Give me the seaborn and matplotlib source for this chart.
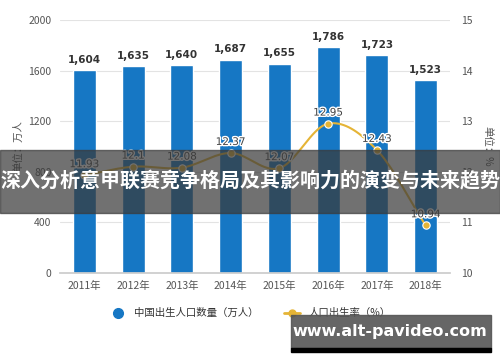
import numpy as np
import pandas as pd
import matplotlib
matplotlib.use("Agg")
import matplotlib.pyplot as plt
import matplotlib.patheffects as pe
import seaborn as sns
from matplotlib.patches import Rectangle
from matplotlib.lines import Line2D

years = ["2011年", "2012年", "2013年", "2014年", "2015年", "2016年", "2017年", "2018年"]
births = [1604, 1635, 1640, 1687, 1655, 1786, 1723, 1523]
birth_rate = [11.93, 12.1, 12.08, 12.37, 12.07, 12.95, 12.43, 10.94]
rate_labels = ["11.93", "12.1", "12.08", "12.37", "12.07", "12.95", "12.43", "10.94"]

sns.set_theme(style="white")
plt.rcParams['font.family'] = ['Noto Sans CJK SC', 'DejaVu Sans']

BLUE = "#1677C4"
GOLD = "#E5B436"
GRAY = "#555555"

df = pd.DataFrame({"year": years, "births": births, "rate": birth_rate})

fig = plt.figure(figsize=(5, 3.62), dpi=100)
ax = fig.add_axes([0.12, 0.246, 0.78, 0.699])

sns.barplot(data=df, x="year", y="births", color=BLUE, width=0.47,
            saturation=1, ax=ax, zorder=2)
ax.set_ylim(0, 2000)
ax.set_yticks([0, 400, 800, 1200, 1600, 2000])
ax.set_xlim(-0.5, 7.5)
ax.grid(axis="y", color="#E3E3E3", lw=0.8, zorder=0)
ax.set_axisbelow(True)
for s in ["top", "right", "left"]:
    ax.spines[s].set_visible(False)
ax.spines["bottom"].set_color("#CCCCCC")
ax.tick_params(axis="both", labelsize=7.5, colors=GRAY, length=0, pad=6)
ax.tick_params(axis="x", length=3, color="#CCCCCC", pad=3)
ax.set_xlabel("")
ax.set_ylabel("单位：万人", fontsize=7.5, color=GRAY, labelpad=4)
for i, v in enumerate(births):
    ax.text(i, v + 40, f"{v:,}", ha="center", va="bottom", fontsize=7.5,
            fontweight="bold", color="#333333", family="DejaVu Sans")

ax2 = ax.twinx()
ax2.set_ylim(10, 15)
ax2.set_yticks([10, 11, 12, 13, 14, 15])
for s in ["top", "right", "left", "bottom"]:
    ax2.spines[s].set_visible(False)
ax2.tick_params(axis="y", labelsize=7.5, colors=GRAY, length=0, pad=8)
ax2.set_ylabel("单位：%", fontsize=7.5, color=GRAY, rotation=-90, labelpad=14)

# smooth curve through the data points (Catmull-Rom)
xs = np.arange(len(birth_rate), dtype=float)
ys = np.array(birth_rate)
px = np.concatenate([[2 * xs[0] - xs[1]], xs, [2 * xs[-1] - xs[-2]]])
py = np.concatenate([[2 * ys[0] - ys[1]], ys, [2 * ys[-1] - ys[-2]]])
cx, cy = [], []
t = np.linspace(0, 1, 20)
for k in range(1, len(px) - 2):
    p0, p1, p2, p3 = py[k - 1], py[k], py[k + 1], py[k + 2]
    q0, q1, q2, q3 = px[k - 1], px[k], px[k + 1], px[k + 2]
    cy.extend(0.5 * (2 * p1 + (-p0 + p2) * t + (2 * p0 - 5 * p1 + 4 * p2 - p3) * t**2
                     + (-p0 + 3 * p1 - 3 * p2 + p3) * t**3))
    cx.extend(0.5 * (2 * q1 + (-q0 + q2) * t + (2 * q0 - 5 * q1 + 4 * q2 - q3) * t**2
                     + (-q0 + 3 * q1 - 3 * q2 + q3) * t**3))
ax2.plot(cx, cy, color=GOLD, lw=1.5, zorder=3)
sns.scatterplot(x=xs, y=ys, color=GOLD, s=28, edgecolor="white", linewidth=0.8,
                ax=ax2, zorder=4, legend=False)
for i, v in enumerate(birth_rate):
    ax2.text(i, v + 0.12, rate_labels[i], ha="center", va="bottom", fontsize=7.5,
             color="#444444", family="DejaVu Sans",
             path_effects=[pe.withStroke(linewidth=2, foreground="white")])

handles = [
    Line2D([], [], marker="o", color=BLUE, lw=0, markersize=7),
    Line2D([], [], marker="o", color=GOLD, lw=2, markersize=5),
]
fig.legend(handles, ["中国出生人口数量（万人）", "人口出生率（%）"], loc="center",
           bbox_to_anchor=(0.5, 0.135), ncol=2, frameon=False, fontsize=7.5,
           handlelength=1.5, columnspacing=2.5, labelcolor="#333333")

# overlay banner
fig.patches.append(Rectangle((0, 0.412), 1, 0.174, transform=fig.transFigure,
                             color="#3A3A3A", alpha=0.72, zorder=10))
fig.text(0.5, 0.5, "深入分析意甲联赛竞争格局及其影响力的演变与未来趋势", ha="center",
         va="center", fontsize=14.4, fontweight="bold", color="white", zorder=11)

# bottom-right watermark box
fig.patches.append(Rectangle((0.582, 0.039), 0.4, 0.091, transform=fig.transFigure,
                             color="#555555", alpha=0.9, zorder=10))
fig.patches.append(Rectangle((0.582, 0.028), 0.4, 0.012, transform=fig.transFigure,
                             color="black", zorder=10))
fig.text(0.78, 0.085, "www.alt-pavideo.com", ha="center", va="center", fontsize=11.5,
         fontweight="bold", color="white", family="DejaVu Sans", zorder=11)

fig.savefig("out.png", dpi=100)
